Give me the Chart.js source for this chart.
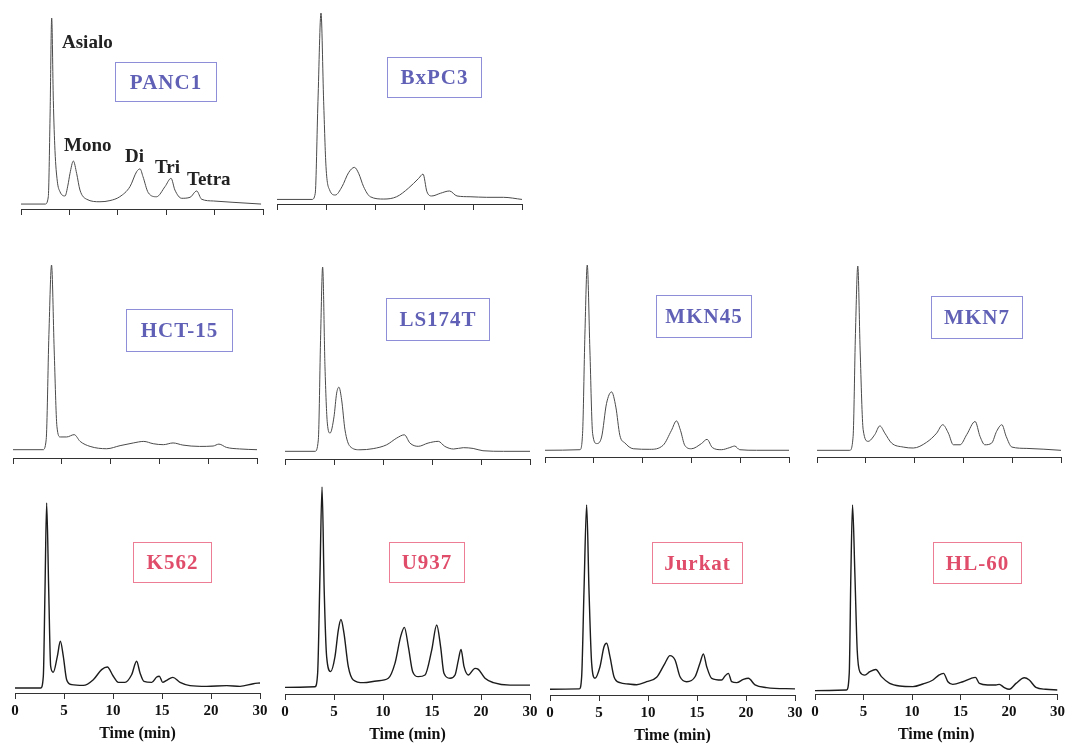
<!DOCTYPE html>
<html>
<head>
<meta charset="utf-8">
<title>Sialylated glycan profiles of cell lines</title>
<script src="https://cdn.jsdelivr.net/npm/chart.js@4.4.1/dist/chart.umd.min.js"></script>
<style>
  html, body { margin: 0; padding: 0; background: #fff; }
  #page { position: relative; width: 1069px; height: 743px; overflow: hidden; background: #fff; }
  #page canvas { position: absolute; left: 0; top: 0; }
  .tag { position: absolute; box-sizing: border-box; border: 1px solid; display: flex; align-items: center; justify-content: center;
         font: bold 21px "Liberation Serif", "DejaVu Serif", serif; letter-spacing: 1px; }
  .blue { color: #6060b6; border-color: #8d8dd8; }
  .red { color: #e04d6b; border-color: #ec7d95; }
  .peak { position: absolute; font: bold 19px/19px "Liberation Serif", serif; color: #222; white-space: nowrap; }
</style>
</head>
<body>
<div id="page"></div>
<script>
const cellLines = ['PANC1', 'BxPC3', 'HCT-15', 'LS174T', 'MKN45', 'MKN7', 'K562', 'U937', 'Jurkat', 'HL-60'];
const tickLabels = ['0', '5', '10', '15', '20', '30'];
const peakNames = ['Asialo', 'Mono', 'Di', 'Tri', 'Tetra'];

// [position on the time axis, signal relative to the main peak]
const panc1Trace = [[0,3.1],[2.5,3.1],[2.82,6.9],[3.0,48],[3.17,100],[3.34,57],[3.51,31],[3.75,15],[4.03,9.5],[4.55,7.3],
  [4.85,13],[5.06,19],[5.41,25.5],[5.75,19],[6.09,10.4],[6.78,5.6],[8.16,4.3],[9.19,4.9],[10.2,6.9],[11.26,12.2],[11.95,20],
  [12.3,21.4],[12.6,17.4],[13.15,9],[14.0,6.9],[14.88,12.2],[15.5,16.5],[15.9,10.4],[16.6,6.1],[17.46,6.6],[18.15,9.9],
  [18.66,5.6],[19.87,4.7],[21.9,4.0],[24.8,3.1]];
const bxpc3Trace = [[0,2.9],[3.57,2.9],[3.9,6],[4.18,54],[4.49,100],[4.76,54],[5.0,20],[5.37,7.8],[5.95,5.2],[6.63,9.5],
  [7.3,16.8],[7.9,19.6],[8.33,16.5],[8.84,9.5],[9.52,4.3],[10.9,3.1],[12.2,4.3],[13.4,8.7],[14.46,13.9],[14.9,16.1],
  [15.3,6.9],[15.8,4.7],[16.67,6.1],[17.6,7.3],[18.37,4.7],[19.7,4.3],[21.4,4.0],[23.1,4.0],[25,2.9]];
const hct15Trace = [[0,4.3],[3.07,4.3],[3.4,9.5],[3.68,64],[3.95,100],[4.22,56],[4.5,16.4],[4.84,10.9],[5.5,10.9],[6.27,12.1],
  [6.88,8.6],[7.9,6],[9.6,4.8],[10.97,6.4],[12.33,7.8],[13.4,8.6],[14.37,7.4],[15.4,6.9],[16.4,7.8],[17.4,6.7],
  [19.1,6],[20.5,6.2],[21.1,7.2],[21.87,5.5],[23.2,4.7],[25,4.3]];
const ls174tTrace = [[0,4],[3.06,4],[3.4,10],[3.64,65],[3.84,100],[4.08,48],[4.32,18.7],[4.6,13.5],[5.0,22],[5.27,34.3],
  [5.5,37.4],[5.78,30.8],[6.12,15.2],[6.63,6.6],[7.65,4.8],[9.0,5.4],[10.37,7.4],[11.4,10.9],[12.18,12.6],[12.75,8.3],
  [13.6,6.6],[14.6,8.3],[15.65,9.2],[16.3,6.6],[17.2,5.2],[18.2,5.9],[19.2,5.5],[20.2,4.3],[22.3,4],[25,4]];
const mkn45Trace = [[0,3.5],[3.58,3.8],[3.85,12.2],[4.09,64],[4.33,100],[4.6,55.7],[4.88,12.2],[5.29,7],[5.8,10.4],[6.3,27.8],
  [6.82,33.9],[7.26,26],[7.67,11.3],[8.19,7.3],[9.04,4.3],[10.74,4],[12.1,6.1],[12.96,13.9],[13.47,18.8],[13.88,13.9],
  [14.32,6.1],[15.0,4.3],[16.03,7],[16.6,9.2],[17.15,4.9],[18.07,3.8],[18.93,4.9],[19.44,5.7],[19.95,3.8],[21.66,3.5],[25,3.5]];
const mkn7Trace = [[0,3.5],[3.36,3.5],[3.7,10.8],[3.94,64.7],[4.18,100],[4.42,56],[4.73,14.3],[5.24,8.2],[5.92,11.7],[6.44,16.3],
  [6.95,12.5],[7.64,7.3],[8.84,5.2],[9.86,4.7],[11.23,7.7],[12.26,12.5],[12.88,16.9],[13.46,12.5],[13.97,6.4],[14.66,6.4],
  [15.34,11.7],[16.2,18.6],[16.7,10.8],[17.2,6.4],[17.9,7.3],[18.4,13.4],[18.94,16.9],[19.38,10.8],[19.97,5.2],[21.5,4.5],[25,3.5]];
const k562Trace = [[0,2.6],[2.62,2.6],[2.89,8.8],[3.06,54],[3.23,100],[3.44,54],[3.64,14],[3.9,10.9],[4.32,19.3],[4.63,27.2],
  [4.93,19.3],[5.27,7],[5.78,4.4],[6.97,4],[7.99,7],[8.84,12.3],[9.42,13.7],[10.03,8.8],[10.54,5.6],[11.22,5.6],
  [11.9,9.6],[12.41,16.7],[12.76,10.5],[13.16,6.1],[13.95,5.6],[14.46,8.4],[14.73,8.8],[15.07,5.6],[15.48,6.7],[16.1,8.2],
  [16.84,5.6],[17.86,3.9],[19.56,3.5],[21.6,3.9],[22.96,3.5],[24.32,4.9],[25,5.3]];
const u937Trace = [[0,3.2],[3.06,3.5],[3.33,10],[3.57,58],[3.78,100],[4.0,50],[4.25,18],[4.66,10.8],[5.1,18],[5.44,30.9],
  [5.71,36],[6.02,29.3],[6.46,13.2],[6.97,6.8],[8.0,5.5],[9.35,6.3],[10.54,7.6],[11.22,14.8],[11.8,27.7],[12.18,32.2],
  [12.59,22.8],[13.03,10.8],[13.6,8.4],[14.29,9.2],[14.97,21.2],[15.48,33.3],[15.88,22.8],[16.22,10],[16.84,7.6],[17.35,9.2],
  [17.69,16.4],[17.96,21.5],[18.27,13.2],[18.7,9.2],[19.39,12.4],[19.73,11.9],[20.41,7.6],[21.26,5.5],[22.96,4.3],[25,4.3]];
const jurkatTrace = [[0,3],[2.99,3.2],[3.23,9.6],[3.47,55],[3.74,100],[3.98,55],[4.25,16.7],[4.59,8.8],[5.1,14.9],[5.51,25.4],
  [5.78,27.2],[6.12,20.2],[6.53,9.6],[7.14,6.5],[7.99,5.8],[8.84,5.4],[9.86,7],[10.88,9.3],[11.73,16.7],[12.24,20.7],
  [12.76,18.4],[13.27,9.6],[13.95,7],[14.8,9.6],[15.3,16.7],[15.65,21.6],[15.99,14.9],[16.5,8.8],[17.5,7.9],[17.86,10],
  [18.2,11.4],[18.54,7],[19.05,6.5],[19.73,8.2],[20.24,8.8],[20.92,5.3],[22.1,3.9],[25,3.2]];
const hl60Trace = [[0,1.8],[3.25,2.1],[3.53,10.9],[3.7,63.8],[3.87,100],[4.11,63.8],[4.35,23.3],[4.62,11.8],[5.14,10],[5.65,11.8],
  [6.27,13],[6.85,9.2],[7.7,5.6],[8.73,4.2],[10.1,3.9],[11.13,5.3],[12.16,7.4],[12.77,10],[13.25,10.9],[13.7,6.5],
  [14.2,5.1],[15.24,6.5],[16.1,8.3],[16.54,8.8],[16.95,5.6],[17.8,4.8],[18.66,4.8],[19.0,5.1],[19.52,3.4],[20.03,2.5],
  [20.72,5.6],[21.58,8.6],[22.09,7.4],[22.77,3.5],[23.8,2.5],[25,2.1]];

const traces = [panc1Trace, bxpc3Trace, hct15Trace, ls174tTrace, mkn45Trace, mkn7Trace, k562Trace, u937Trace, jurkatTrace, hl60Trace];

// where each panel sits on the page: axis ends, axis line, apex of main peak, label box
const panels = [
  { x0: 21,  x1: 263,  axis: 210, apex: 18,  tag: [115, 62, 102, 40], colour: 'blue' },
  { x0: 277, x1: 522,  axis: 205, apex: 13,  tag: [387, 57, 95, 41],  colour: 'blue' },
  { x0: 13,  x1: 257,  axis: 458, apex: 265, tag: [126, 309, 107, 43], colour: 'blue' },
  { x0: 285, x1: 530,  axis: 459, apex: 267, tag: [386, 298, 104, 43], colour: 'blue' },
  { x0: 545, x1: 789,  axis: 457, apex: 265, tag: [656, 295, 96, 43],  colour: 'blue' },
  { x0: 817, x1: 1061, axis: 457, apex: 266, tag: [931, 296, 92, 43],  colour: 'blue' },
  { x0: 15,  x1: 260,  axis: 693, apex: 503, tag: [133, 542, 79, 41],  colour: 'red' },
  { x0: 285, x1: 530,  axis: 694, apex: 487, tag: [389, 542, 76, 41],  colour: 'red' },
  { x0: 550, x1: 795,  axis: 695, apex: 505, tag: [652, 542, 91, 42],  colour: 'red' },
  { x0: 815, x1: 1058, axis: 694, apex: 505, tag: [933, 542, 89, 42],  colour: 'red' }
];
const peakLabelSpots = [[62, 32], [64, 135], [125, 146], [155, 157], [187, 169]];

const W = 1069, H = 743;
const page = document.getElementById('page');

function makePanel(i) {
  const p = panels[i];
  const bottomRow = i >= 6;
  const canvas = document.createElement('canvas');
  canvas.width = W;
  canvas.height = H;
  page.appendChild(canvas);

  // y range chosen so 0 lands on the axis line and 100 on the apex
  const span = 100 * H / (p.axis - p.apex);
  const yMin = -span * (H - p.axis) / H;

  new Chart(canvas, {
    type: 'line',
    data: {
      datasets: [{
        label: cellLines[i],
        data: traces[i].map(d => ({ x: d[0], y: d[1] })),
        borderColor: bottomRow ? '#1c1c1c' : '#4a4a4a',
        borderWidth: bottomRow ? 1.4 : 1,
        pointRadius: 0,
        cubicInterpolationMode: 'monotone',
        fill: false
      }]
    },
    options: {
      responsive: false,
      animation: false,
      devicePixelRatio: 1,
      events: [],
      layout: { padding: { left: p.x0, right: W - p.x1, top: 0, bottom: 0 } },
      plugins: { legend: { display: false }, tooltip: { enabled: false } },
      scales: {
        x: {
          type: 'linear',
          position: { y: 0 },
          min: 0,
          max: 25,
          ticks: {
            display: bottomRow,
            stepSize: 5,
            autoSkip: false,
            maxRotation: 0,
            padding: 4,
            color: '#111',
            font: { family: '"Liberation Serif", serif', size: 15, weight: 'bold' },
            callback: (v, k) => tickLabels[k]
          },
          grid: { display: true, drawOnChartArea: false, drawTicks: true, tickLength: 5, color: '#333', lineWidth: 1 },
          border: { display: true, color: '#333', width: 1 },
          title: {
            display: bottomRow,
            text: 'Time (min)',
            color: '#111',
            padding: { top: 0, bottom: 0 },
            font: { family: '"Liberation Serif", serif', size: 16, weight: 'bold' }
          }
        },
        y: { display: false, min: yMin, max: yMin + span }
      }
    }
  });

  const t = p.tag;
  const tag = document.createElement('div');
  tag.className = 'tag ' + p.colour;
  tag.style.left = t[0] + 'px';
  tag.style.top = t[1] + 'px';
  tag.style.width = t[2] + 'px';
  tag.style.height = t[3] + 'px';
  tag.textContent = cellLines[i];
  page.appendChild(tag);
}

for (let i = 0; i < panels.length; i++) makePanel(i);

peakNames.forEach((name, k) => {
  const el = document.createElement('div');
  el.className = 'peak';
  el.style.left = peakLabelSpots[k][0] + 'px';
  el.style.top = peakLabelSpots[k][1] + 'px';
  el.textContent = name;
  page.appendChild(el);
});
</script>
</body>
</html>
